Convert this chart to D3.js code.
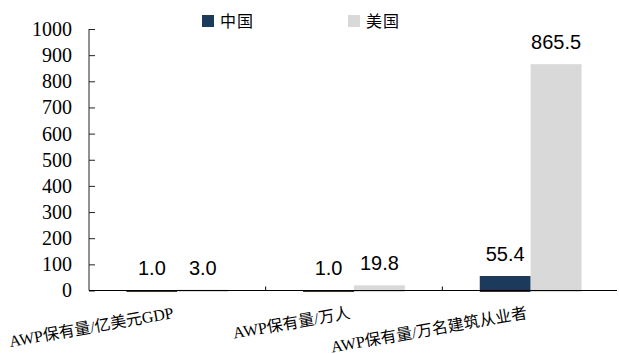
<!DOCTYPE html>
<html>
<head>
<meta charset="utf-8">
<script src="https://cdn.jsdelivr.net/npm/d3@7"></script>
<style>
  html, body { margin: 0; padding: 0; background: #fff; }
  svg { display: block; }
</style>
</head>
<body>
<svg id="chart" width="619" height="354"></svg>
<script>
// AWP fleet density: China vs United States
const categories = ["AWP保有量/亿美元GDP", "AWP保有量/万人", "AWP保有量/万名建筑从业者"];
const seriesNames = ["中国", "美国"];
const chinaValues = [1.0, 1.0, 55.4];
const usaValues = [3.0, 19.8, 865.5];
const yTicks = [0, 100, 200, 300, 400, 500, 600, 700, 800, 900, 1000];

const colors = { "中国": "#1b3a5c", "美国": "#d9d9d9" };

const rows = categories.map((c, i) => ({
  category: c,
  values: [
    { series: "中国", value: chinaValues[i] },
    { series: "美国", value: usaValues[i] }
  ]
}));

const svg = d3.select("#chart");
const plotLeft = 89, plotRight = 619, plotTop = 29, plotBottom = 290.5;

const x0 = d3.scaleBand().domain(categories).range([plotLeft, plotRight]).paddingInner(0).paddingOuter(0);
const x1 = d3.scaleBand().domain(seriesNames).range([0, x0.bandwidth()]).paddingInner(0).paddingOuter(0.735);
const y = d3.scaleLinear().domain([0, 1000]).range([plotBottom, plotTop]);

// bars
const groups = svg.append("g").selectAll("g").data(rows).join("g")
  .attr("transform", d => `translate(${x0(d.category)},0)`);

groups.selectAll("rect").data(d => d.values).join("rect")
  .attr("x", d => x1(d.series))
  .attr("y", d => y(d.value))
  .attr("width", x1.bandwidth())
  .attr("height", d => y(0) - y(d.value) + 1.5)
  .attr("fill", d => colors[d.series]);

// value labels
groups.selectAll("text").data(d => d.values).join("text")
  .attr("x", d => x1(d.series) + x1.bandwidth() / 2)
  .attr("y", d => y(d.value) - 15)
  .attr("text-anchor", "middle")
  .attr("font-family", "'Liberation Sans', Arial, sans-serif")
  .attr("font-size", 20)
  .attr("fill", "#000")
  .text(d => d.value.toFixed(1));

// y axis
const yAxis = svg.append("g")
  .attr("transform", `translate(${plotLeft},0)`)
  .call(d3.axisLeft(y).tickValues(yTicks).tickSize(-6).tickPadding(17).tickFormat(d3.format("d")));
yAxis.select(".domain").attr("stroke", "#222").attr("d", `M0,${plotTop}V${plotBottom}`);
yAxis.selectAll(".tick line").attr("stroke", "#222");
yAxis.selectAll(".tick text")
  .attr("font-family", "'Liberation Serif', 'Times New Roman', serif")
  .attr("font-size", 20)
  .attr("fill", "#000");

// x axis
const boundaries = categories.map(c => x0(c) + x0.bandwidth());
const xAxisG = svg.append("g");
xAxisG.append("line")
  .attr("x1", plotLeft).attr("x2", 617)
  .attr("y1", plotBottom).attr("y2", plotBottom)
  .attr("stroke", "#000").attr("stroke-width", 1.2);
xAxisG.selectAll("line.tick").data(boundaries.slice(0, 2)).join("line")
  .attr("class", "tick")
  .attr("x1", d => d).attr("x2", d => d)
  .attr("y1", plotBottom).attr("y2", plotBottom - 4)
  .attr("stroke", "#000");

// category labels
svg.append("g").selectAll("text").data(categories).join("text")
  .attr("transform", c => `translate(${x0(c) + x0.bandwidth() / 2 - 3},318) rotate(-10)`)
  .attr("text-anchor", "end")
  .attr("font-family", "'Liberation Serif', 'Noto Sans CJK SC', serif")
  .attr("font-size", 16)
  .attr("fill", "#000")
  .text(c => c);

// legend
const legend = svg.append("g").selectAll("g").data(seriesNames).join("g")
  .attr("transform", (d, i) => `translate(${202 + i * 146},15)`);
legend.append("rect")
  .attr("width", 12).attr("height", 12)
  .attr("fill", d => colors[d]);
legend.append("text")
  .attr("x", 18).attr("y", 12)
  .attr("font-family", "'Noto Sans CJK SC', sans-serif")
  .attr("font-size", 16)
  .attr("letter-spacing", 1)
  .attr("fill", "#000")
  .text(d => d);
</script>
</body>
</html>
